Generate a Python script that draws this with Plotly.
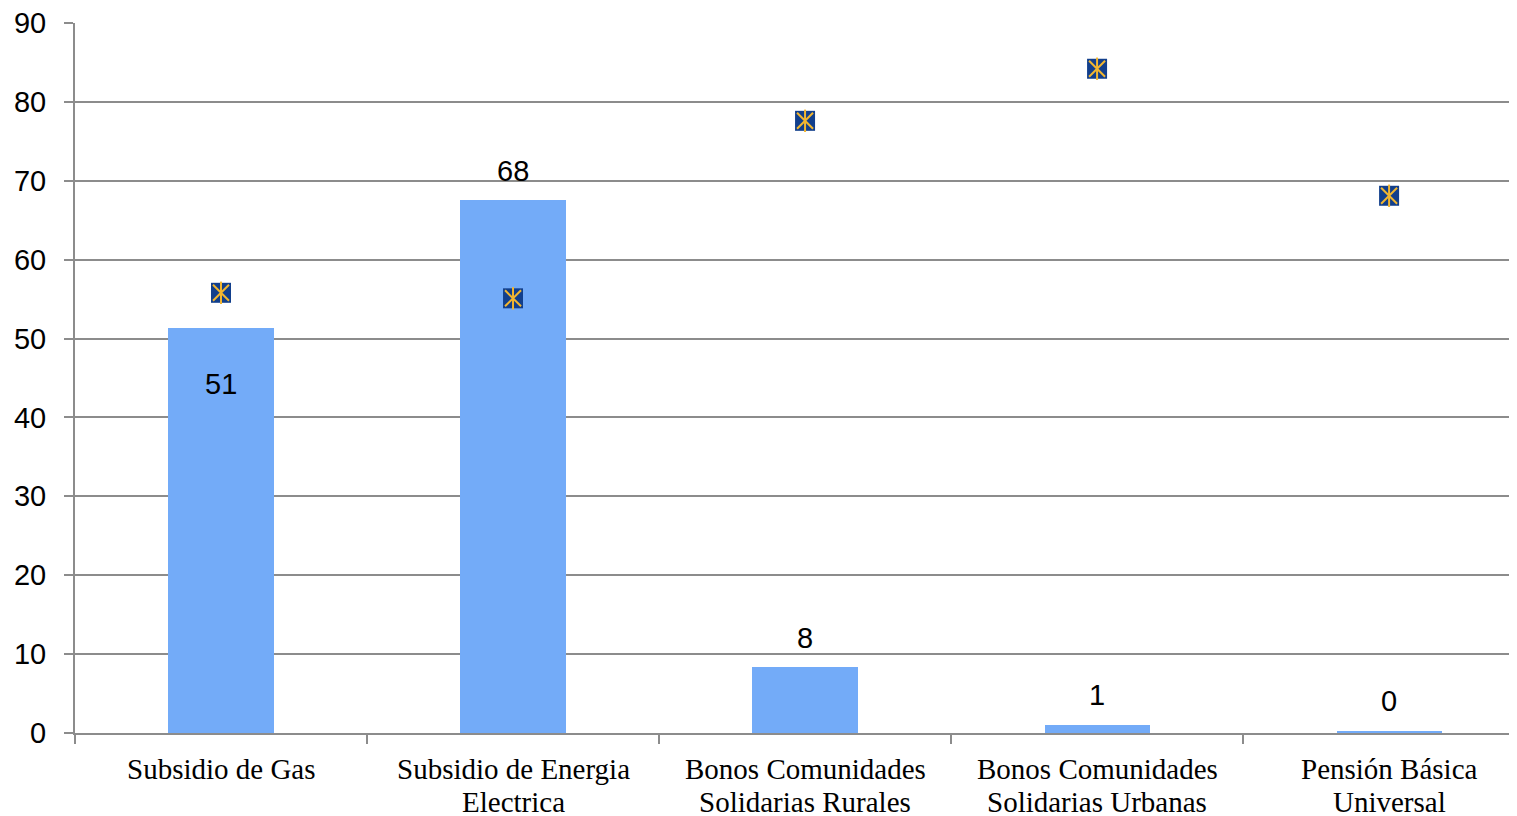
import plotly.graph_objects as go

categories = ["Subsidio de Gas", "Subsidio de Energia<br>Electrica",
              "Bonos Comunidades<br>Solidarias Rurales",
              "Bonos Comunidades<br>Solidarias Urbanas",
              "Pensión Básica<br>Universal"]
bar_values = [51.3, 67.6, 8.4, 1.0, 0.3]
marker_values = [55.8, 55.1, 77.6, 84.2, 68.1]
label_shift = [-56, 29, 29, 30, 30]

BAR = "#73ABF8"
SQ = "#123F8C"
GOLD = "#F2B630"
GRID = "#8C8C8C"

fig = go.Figure()
fig.add_trace(go.Bar(x=categories, y=bar_values, marker_color=BAR,
                     marker_line_width=0, width=0.36, showlegend=False,
                     hoverinfo="skip"))
fig.add_trace(go.Scatter(x=categories, y=marker_values, mode="markers",
                         marker=dict(symbol="square", size=20, color=SQ,
                                     line=dict(width=0)),
                         showlegend=False))
fig.add_trace(go.Scatter(x=categories, y=marker_values, mode="markers",
                         marker=dict(symbol="x-thin-open", size=16, color=GOLD,
                                     line=dict(width=2, color=GOLD)),
                         showlegend=False))
fig.add_trace(go.Scatter(x=categories, y=marker_values, mode="markers",
                         marker=dict(symbol="line-ns-open", size=16, color=GOLD,
                                     line=dict(width=2, color=GOLD)),
                         showlegend=False))

for c, v, s in zip(categories, bar_values, label_shift):
    fig.add_annotation(x=c, y=v, text=str(round(v)), showarrow=False,
                       yshift=s, font=dict(family="Liberation Sans, Arial",
                                           size=29, color="black"))

# category labels, one annotation per line for tight line spacing
for c in categories:
    for i, line in enumerate(c.split("<br>")):
        fig.add_annotation(x=c, y=0, xref="x", yref="paper", text=line,
                           showarrow=False, yanchor="middle",
                           yshift=-36 - 33 * i,
                           font=dict(family="Liberation Serif, Times New Roman",
                                     size=29, color="black"))

fig.update_layout(
    width=1509, height=808,
    margin=dict(l=67, r=0, t=15, b=83),
    paper_bgcolor="white", plot_bgcolor="white",
    bargap=0,
    xaxis=dict(type="category", range=[-0.5, 4.438], tickson="boundaries",
               ticks="outside", ticklen=9, tickcolor=GRID, tickwidth=2,
               showline=True, linecolor=GRID, linewidth=2, showgrid=False,
               showticklabels=False),
    yaxis=dict(range=[0, 90], tickvals=list(range(0, 91, 10)),
               ticks="outside", ticklen=9, tickcolor=GRID, tickwidth=2,
               showline=True, linecolor=GRID, linewidth=2,
               showgrid=True, gridcolor=GRID, gridwidth=1.5, zeroline=False,
               tickfont=dict(family="Liberation Sans, Arial", size=29,
                             color="black"),
               ticklabelstandoff=12, ticklabeloverflow="allow"),
)

fig.write_html("out.html")
